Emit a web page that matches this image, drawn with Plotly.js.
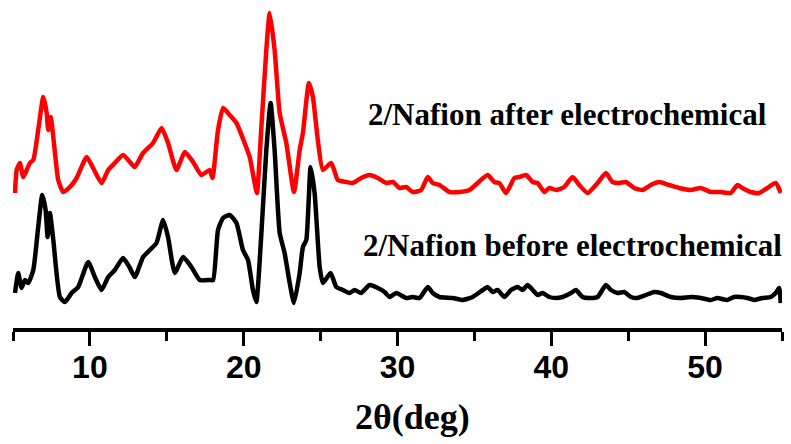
<!DOCTYPE html>
<html>
<head>
<meta charset="utf-8">
<script src="https://cdn.plot.ly/plotly-3.0.1.min.js"></script>
<style>html,body{margin:0;padding:0;background:#fff;}#chart{width:791px;height:444px;}</style>
</head>
<body>
<div id="chart"></div>
<script>
// 2theta (deg) and stacked intensity (a.u.)
const beforeX = [5.13,5.34,5.56,5.78,5.99,6.32,6.64,6.90,7.12,7.25,7.40,7.62,8.05,8.38,8.81,9.24,9.89,10.32,10.76,11.19,11.62,12.16,12.60,12.92,13.46,13.90,14.33,14.76,15.08,15.52,16.06,16.60,17.14,17.79,18.01,18.33,18.66,19.09,19.53,19.95,20.28,20.60,20.82,21.15,21.47,21.75,22.01,22.34,22.66,22.99,23.27,23.64,23.85,24.07,24.35,24.61,24.94,25.15,25.65,26.02,26.45,26.88,27.21,27.64,28.18,28.72,29.16,29.48,29.92,30.56,30.99,31.43,31.97,32.29,32.73,33.59,34.24,34.89,35.54,35.86,36.19,36.51,36.95,37.38,37.81,38.14,38.46,38.79,39.11,39.44,39.87,40.31,40.73,41.28,41.60,42.03,42.47,43.01,43.55,43.88,44.31,44.74,45.18,45.60,46.15,46.69,47.12,47.77,48.42,49.07,49.72,50.37,50.80,51.45,51.88,52.32,52.75,53.18,53.72,54.27,54.59,54.81,54.92];
const beforeY = [35,55,40,48,45,58,101,133,118,91,115,88,31,26,35,41,66,51,38,51,58,70,60,51,71,78,85,108,91,55,71,61,48,48,48,98,110,113,105,78,68,38,26,95,178,225,178,95,75,45,25,55,81,88,161,135,61,45,55,41,38,35,38,35,43,40,36,31,35,30,31,30,41,35,31,30,28,31,38,41,36,38,31,38,41,38,43,38,33,35,31,30,31,35,38,31,30,31,43,38,35,36,31,30,33,36,35,31,30,31,30,28,30,28,31,31,30,28,30,31,35,40,25];

const afterX = [5.13,5.24,5.45,5.67,5.89,6.10,6.32,6.64,6.97,7.19,7.29,7.45,7.73,7.94,8.27,8.70,9.14,9.79,10.21,10.76,11.19,11.62,12.16,12.71,12.92,13.46,14.11,14.66,15.08,15.63,16.17,16.71,17.25,17.79,17.97,18.33,18.66,19.09,19.53,20.06,20.39,20.71,20.86,21.15,21.47,21.69,22.01,22.34,22.77,23.27,23.64,23.85,24.24,24.50,24.82,25.15,25.69,26.12,26.67,27.10,27.64,28.18,28.72,29.27,29.70,30.13,30.56,30.99,31.54,31.97,32.29,32.73,33.38,34.03,34.68,35.21,35.86,36.30,36.62,37.06,37.60,37.92,38.36,38.79,39.11,39.55,39.87,40.31,40.84,41.38,41.82,42.36,43.01,43.55,43.98,44.42,44.85,45.39,45.93,46.47,47.01,47.66,48.31,49.07,49.72,50.37,51.02,51.67,52.10,52.42,52.97,53.51,54.05,54.59,54.92];
const afterY = [135,158,165,151,158,165,168,198,231,215,198,211,175,148,136,141,150,171,160,145,158,165,173,164,161,175,185,200,185,158,176,166,153,158,150,198,220,213,205,185,171,145,135,201,278,315,278,215,185,136,178,195,245,231,188,158,165,148,146,145,150,153,150,145,146,140,141,136,138,151,145,143,136,136,138,145,153,146,145,135,150,151,153,146,145,136,140,138,141,151,143,135,145,155,146,145,146,140,138,143,146,143,140,138,140,136,136,135,143,140,136,135,140,145,135];

const tickVals = [10,20,30,40,50];
const tickText = ['10','20','30','40','50'];
const labelAfter = '2/Nafion after electrochemical';
const labelBefore = '2/Nafion before electrochemical';
const xTitle = '2θ(deg)';

const serif = '"Liberation Serif", "Times New Roman", serif';

const traces = [
  {x: beforeX, y: beforeY, type: 'scatter', mode: 'lines', name: labelBefore,
   line: {color: '#000000', width: 4.5, shape: 'spline', smoothing: 0.5}, cliponaxis: false},
  {x: afterX, y: afterY, type: 'scatter', mode: 'lines', name: labelAfter,
   line: {color: '#ff0000', width: 4.5, shape: 'spline', smoothing: 0.5}, cliponaxis: false}
];

const layout = {
  width: 791, height: 444,
  margin: {l: 13, r: 9, t: 5, b: 116},
  paper_bgcolor: '#ffffff', plot_bgcolor: '#ffffff',
  showlegend: false,
  xaxis: {
    range: [5, 55], showgrid: false, zeroline: false,
    showline: true, linewidth: 4, linecolor: '#000',
    ticks: 'outside', ticklen: 14, tickwidth: 3, tickcolor: '#000',
    tickvals: tickVals, ticktext: tickText,
    ticklabelstandoff: -6,
    tickfont: {family: '"Liberation Sans", Arial, sans-serif', size: 32, color: '#000', weight: 'bold'},
    minor: {tick0: 5, dtick: 5, ticks: 'outside', ticklen: 9, tickwidth: 3, tickcolor: '#000', showgrid: false}
  },
  yaxis: {
    range: [0, 323], showgrid: false, zeroline: false, showline: false,
    showticklabels: false, ticks: ''
  },
  annotations: [
    {text: labelAfter, x: 27.95, y: 214, xref: 'x', yref: 'y', xanchor: 'left', yanchor: 'middle', showarrow: false,
     font: {family: serif, size: 31, color: '#000', weight: 'bold'}},
    {text: labelBefore, x: 27.65, y: 83, xref: 'x', yref: 'y', xanchor: 'left', yanchor: 'middle', showarrow: false,
     font: {family: serif, size: 31, color: '#000', weight: 'bold'}},
    {text: xTitle, x: 0.519, y: -0.275, xref: 'paper', yref: 'paper', xanchor: 'center', yanchor: 'middle', showarrow: false,
     font: {family: serif, size: 36, color: '#000', weight: 'bold'}}
  ]
};

Plotly.newPlot('chart', traces, layout, {staticPlot: true, displayModeBar: false});
</script>
</body>
</html>
